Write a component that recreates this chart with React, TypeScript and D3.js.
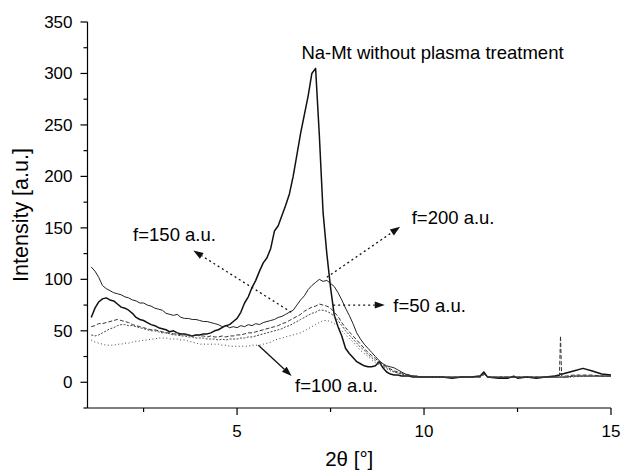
import React from "react";
import * as d3 from "d3";

// 2θ sampling grid (degrees)
const theta: number[] = [
  1.1, 1.2, 1.3, 1.4, 1.5, 1.6, 1.7, 1.8, 1.9, 2.0,
  2.1, 2.2, 2.3, 2.4, 2.5, 2.6, 2.7, 2.8, 2.9, 3.0,
  3.1, 3.2, 3.3, 3.4, 3.5, 3.6, 3.7, 3.8, 3.9, 4.0,
  4.1, 4.2, 4.3, 4.4, 4.5, 4.6, 4.7, 4.8, 4.9, 5.0,
  5.1, 5.2, 5.3, 5.4, 5.5, 5.6, 5.7, 5.8, 5.9, 6.0,
  6.1, 6.2, 6.3, 6.4, 6.5, 6.6, 6.7, 6.8, 6.9, 7.0,
  7.1, 7.2, 7.3, 7.4, 7.5, 7.6, 7.7, 7.8, 7.9, 8.0,
  8.1, 8.2, 8.3, 8.4, 8.5, 8.6, 8.7, 8.8, 8.9, 9.0,
  9.1, 9.2, 9.3, 9.4, 9.5, 9.6, 9.7, 9.8, 9.9, 10.0,
  10.25, 10.5, 10.75, 11.0, 11.25, 11.5, 11.6, 11.7, 12.0, 12.25,
  12.4, 12.5, 12.75, 13.0, 13.25, 13.5, 13.62, 13.65, 13.68, 13.7,
  13.8, 14.0, 14.25, 14.5, 14.75, 15.0,
];

const naMt: number[] = [
  63, 72, 78, 81, 82, 80, 79, 76, 73, 72,
  70, 67, 63, 61, 60, 58, 56, 55, 53, 52,
  51, 49, 50, 48, 47, 47, 46, 45, 46, 46,
  47, 47, 48, 50, 51, 53, 55, 56, 59, 62,
  68, 77, 83, 92, 99, 108, 116, 121, 130, 147,
  152, 162, 172, 183, 200, 221, 242, 260, 278, 300,
  305, 240, 165, 125, 92, 65, 54, 45, 33, 28,
  24, 20, 18, 16, 15, 15, 16, 20, 14, 10,
  8, 7, 7, 6, 6, 6, 5, 5, 5, 5,
  5, 5, 4, 5, 5, 6, 10, 5, 4, 4,
  6, 4, 5, 4, 5, 6, 7, 8, 8, 8,
  9, 11, 13.5, 11, 8, 7,
];

const f200: number[] = [
  112, 108, 102, 94, 91, 89, 87, 86, 85, 83,
  82, 80, 79, 77, 77, 75, 74, 72, 71, 70,
  67, 66, 65, 66, 63, 62, 62, 61, 61, 60,
  59, 59, 58, 57, 56, 54, 55, 53, 54, 53,
  55, 54, 56, 55, 57, 56, 58, 59, 60, 61,
  63, 64, 66, 68, 70, 75, 80, 84, 90, 94,
  97, 100, 98, 99, 96, 93, 87, 80, 72, 65,
  57, 48, 42, 37, 33, 29, 25, 21, 18, 16,
  15, 14, 12, 10, 8, 7, 6, 6, 5, 5,
  5, 5, 5, 5, 5, 6, 9, 5, 5, 5,
  5, 5, 5, 5, 5, 5, 5, 5, 5, 5,
  5, 6, 6, 6, 6, 6,
];

const f50: number[] = [
  54, 55, 57, 57, 58, 59, 60, 61, 60, 59,
  58, 56, 55, 54, 53, 52, 51, 51, 50, 49,
  48, 48, 47, 47, 46, 46, 46, 45, 46, 45,
  45, 44, 45, 44, 44, 45, 44, 45, 45, 46,
  46, 47, 48, 48, 49, 50, 51, 52, 53, 54,
  55, 57, 58, 60, 62, 64, 66, 69, 71, 73,
  74, 76, 75, 74, 72, 68, 64, 58, 53, 49,
  45, 41, 37, 33, 29, 26, 23, 20, 17, 15,
  13, 11, 10, 9, 8, 7, 6, 6, 5, 5,
  5, 5, 5, 5, 5, 5, 8, 5, 5, 5,
  5, 5, 5, 5, 5, 6, 6, 45, 6, 6,
  6, 7, 7, 7, 6, 6,
];

const f150: number[] = [
  46, 45, 46, 48, 50, 52, 53, 55, 56, 56,
  55, 55, 54, 53, 52, 51, 50, 50, 49, 48,
  48, 47, 46, 46, 45, 45, 44, 44, 43, 43,
  43, 42, 42, 42, 41, 42, 41, 42, 42, 42,
  43, 43, 44, 44, 45, 46, 47, 48, 49, 50,
  51, 52, 54, 55, 57, 59, 61, 63, 65, 67,
  68, 70, 70, 69, 67, 64, 60, 55, 50, 46,
  42, 38, 34, 31, 27, 24, 21, 18, 16, 14,
  12, 10, 9, 8, 7, 7, 6, 6, 5, 5,
  5, 5, 5, 5, 5, 5, 8, 5, 5, 5,
  5, 5, 5, 5, 5, 5, 5, 5, 5, 5,
  5, 6, 6, 6, 6, 6,
];

const f100: number[] = [
  41, 39, 38, 37, 36, 36, 36, 37, 37, 38,
  38, 39, 40, 40, 41, 41, 42, 42, 43, 43,
  43, 42, 42, 42, 41, 41, 40, 39, 38, 37,
  37, 37, 37, 37, 37, 36, 36, 35, 35, 35,
  35, 35, 35, 36, 36, 36, 37, 38, 39, 41,
  42, 43, 44, 45, 46, 47, 48, 50, 52, 54,
  56, 58, 60, 60, 59, 57, 54, 50, 46, 43,
  39, 35, 31, 28, 25, 22, 19, 17, 15, 13,
  11, 10, 9, 8, 7, 6, 6, 5, 5, 5,
  5, 5, 5, 5, 5, 5, 7, 5, 5, 5,
  5, 5, 5, 5, 5, 5, 5, 5, 5, 5,
  5, 5, 6, 6, 6, 6,
];

const xMajorTicks: number[] = [5, 10, 15];
const xMinorTicks: number[] = [2.5, 7.5, 12.5];
const yMajorTicks: number[] = [0, 50, 100, 150, 200, 250, 300, 350];
const yMinorTicks: number[] = [-25, 25, 75, 125, 175, 225, 275, 325];

const seriesList = [
  { name: "Na-Mt", values: naMt, width: 1.5, dash: "none", color: "#111" },
  { name: "f=200", values: f200, width: 1.0, dash: "none", color: "#222" },
  { name: "f=50", values: f50, width: 1.0, dash: "4,2", color: "#333" },
  { name: "f=150", values: f150, width: 1.0, dash: "2,1.5", color: "#444" },
  { name: "f=100", values: f100, width: 1.0, dash: "1,2.5", color: "#444" },
];

// annotations in data coordinates
const labels = [
  { text: "Na-Mt without plasma treatment", x: 6.72, y: 314 },
  { text: "f=200 a.u.", x: 9.67, y: 154 },
  { text: "f=150 a.u.", x: 2.22, y: 137 },
  { text: "f=50 a.u.", x: 9.18, y: 68.5 },
  { text: "f=100 a.u.", x: 6.55, y: -9 },
];

const arrows = [
  { x1: 6.45, y1: 68, x2: 3.83, y2: 128, dash: "2,3" },
  { x1: 7.4, y1: 102, x2: 9.36, y2: 151, dash: "2,3" },
  { x1: 7.57, y1: 75, x2: 8.95, y2: 75, dash: "2,3" },
  { x1: 5.57, y1: 36, x2: 6.46, y2: 6, dash: "none" },
];

const W = 622;
const H = 472;
const FONT = "'Liberation Sans', Arial, Helvetica, sans-serif";

export default function App() {
  const x = d3.scaleLinear().domain([1, 15]).range([87.5, 611]);
  const y = d3.scaleLinear().domain([-25, 350]).range([408, 22]);

  const line = d3
    .line<[number, number]>()
    .x((d) => x(d[0]))
    .y((d) => y(d[1]));

  const axisY = y(-25);
  const axisX = x(1);

  return (
    <svg
      width={W}
      height={H}
      style={{ position: "absolute", left: 0, top: 0, background: "#fff" }}
      fontFamily={FONT}
    >
      <rect width={W} height={H} fill="#fff" />
      {/* series */}
      {seriesList.map((s) => (
        <path
          key={s.name}
          d={line(theta.map((t, i) => [t, s.values[i]] as [number, number])) || ""}
          fill="none"
          stroke={s.color}
          strokeWidth={s.width}
          strokeDasharray={s.dash}
          strokeLinejoin="round"
        />
      ))}

      {/* axes */}
      <line x1={axisX} x2={x(15)} y1={axisY} y2={axisY} stroke="#000" strokeWidth={1.2} />
      <line x1={axisX} x2={axisX} y1={y(350)} y2={axisY} stroke="#000" strokeWidth={1.2} />
      {xMajorTicks.map((t) => (
        <g key={"xm" + t}>
          <line x1={x(t)} x2={x(t)} y1={axisY} y2={axisY + 7} stroke="#000" strokeWidth={1.2} />
          <text x={x(t)} y={axisY + 29} textAnchor="middle" fontSize={17}>
            {t}
          </text>
        </g>
      ))}
      {xMinorTicks.map((t) => (
        <line key={"xn" + t} x1={x(t)} x2={x(t)} y1={axisY} y2={axisY + 4} stroke="#000" strokeWidth={1.2} />
      ))}
      {yMajorTicks.map((t) => (
        <g key={"ym" + t}>
          <line x1={axisX - 7} x2={axisX} y1={y(t)} y2={y(t)} stroke="#000" strokeWidth={1.2} />
          <text x={axisX - 15} y={y(t) + 6} textAnchor="end" fontSize={17}>
            {t}
          </text>
        </g>
      ))}
      {yMinorTicks.map((t) => (
        <line key={"yn" + t} x1={axisX - 4} x2={axisX} y1={y(t)} y2={y(t)} stroke="#000" strokeWidth={1.2} />
      ))}

      {/* axis titles */}
      <text x={(x(1) + x(15)) / 2} y={466} textAnchor="middle" fontSize={20.5}>
        2θ [°]
      </text>
      <text
        transform={`translate(28, ${(y(350) + axisY) / 2}) rotate(-90)`}
        textAnchor="middle"
        fontSize={21.5}
      >
        Intensity [a.u.]
      </text>

      {/* arrows */}
      {arrows.map((a, i) => {
        const X1 = x(a.x1), Y1 = y(a.y1), X2 = x(a.x2), Y2 = y(a.y2);
        const ang = Math.atan2(Y2 - Y1, X2 - X1);
        const L = 10, Wd = 3.5;
        const bx = X2 - L * Math.cos(ang), by = Y2 - L * Math.sin(ang);
        const p1 = [bx + Wd * Math.sin(ang), by - Wd * Math.cos(ang)];
        const p2 = [bx - Wd * Math.sin(ang), by + Wd * Math.cos(ang)];
        return (
          <g key={"a" + i}>
            <line x1={X1} y1={Y1} x2={bx} y2={by} stroke="#111" strokeWidth={1.3} strokeDasharray={a.dash} />
            <path d={`M${X2},${Y2}L${p1[0]},${p1[1]}L${p2[0]},${p2[1]}Z`} fill="#111" />
          </g>
        );
      })}

      {/* labels */}
      {labels.map((l) => (
        <text key={l.text} x={x(l.x)} y={y(l.y)} fontSize={18.5}>
          {l.text}
        </text>
      ))}
    </svg>
  );
}
